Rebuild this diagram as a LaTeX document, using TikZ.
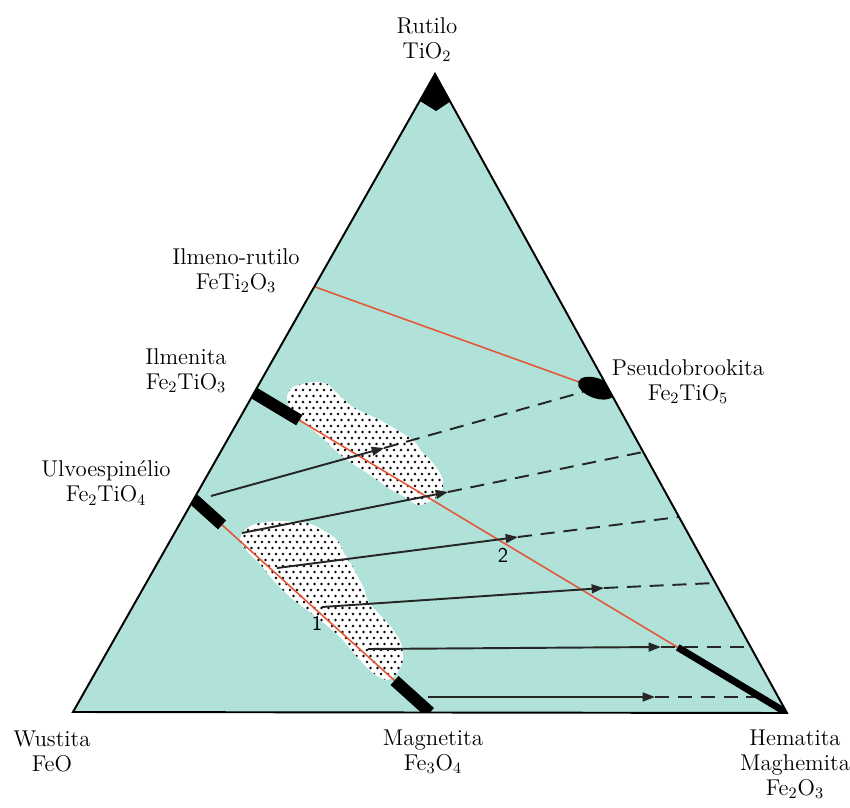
\documentclass[tikz,border=0pt]{standalone}
\usepackage{fontspec}
\usepackage{tikz}
\usetikzlibrary{arrows.meta, calc}
\usepackage{xcolor}
\definecolor{ternfill}{RGB}{176,226,218}
\definecolor{tiered}{RGB}{228,88,58}
\tikzset{
  tie/.style     = {draw=tiered, line width=0.9pt},
  bar/.style     = {draw=black, line width=0.24cm},
  oxi/.style     = {draw=black!85, line width=1.1pt, -{Triangle[length=7pt, width=5pt]}},
  oxidash/.style = {draw=black!85, line width=1.1pt, dash pattern=on 8pt off 5pt},
  lbl/.style     = {font=\fontsize{13}{14.2}\selectfont, align=center, inner sep=0pt},
  num/.style     = {font=\sffamily\fontsize{12}{12}\selectfont, inner sep=0pt}
}

\begin{document}
\begin{tikzpicture}[x=0.02cm, y=-0.02cm]
\useasboundingbox (0,0) rectangle (850,808);
\coordinate (W) at (73,712);
\coordinate (H) at (787,713);
\coordinate (R) at (435,74);
\coordinate (ilr) at ($(W)!2/3!(R)$);
\coordinate (ilm) at ($(W)!1/2!(R)$);
\coordinate (ulv) at ($(W)!1/3!(R)$);
\coordinate (psb) at ($(H)!1/2!(R)$);
\coordinate (mag) at ($(W)!1/2!(H)$);

\fill[ternfill] (W) -- (R) -- (H) -- cycle;

% dotted fields
\begin{scope}
  \clip plot[smooth cycle] coordinates {(287,397) (293,387) (313,382) (327,384) (337,393)
    (353,407) (380,420) (397,430) (413,440) (422,452) (433,463) (443,480) (440,494)
    (427,503) (417,505) (405,497) (390,489) (367,473) (350,462) (335,450) (318,434)
    (300,420) (290,408)};
  \fill[white] (280,375) rectangle (450,512);
  \foreach \r in {0,...,22} \foreach \c in {0,...,24}
    \fill ({282+7*\c+3.5*mod(\r,2)},{378+6*\r}) circle (0.8pt);
\end{scope}
\begin{scope}
  \clip plot[smooth cycle] coordinates {(240,540) (247,528) (260,523) (280,521) (307,523)
    (323,530) (337,540) (344,553) (350,562) (358,577) (364,589) (368,601) (378,613)
    (391,627) (401,643) (403,660) (397,673) (387,680) (373,673) (357,657) (340,637)
    (320,620) (303,607) (290,597) (273,580) (260,564) (247,551)};
  \fill[white] (232,515) rectangle (410,688);
  \foreach \r in {0,...,29} \foreach \c in {0,...,25}
    \fill ({234+7*\c+3.5*mod(\r,2)},{518+6*\r}) circle (0.8pt);
\end{scope}

\draw[tie] (ilr) -- ($(ilr)!0.9!(psb)$);
\draw[tie] (ilm) -- (H);
\draw[tie] (ulv) -- (mag);

\foreach \n/\sx/\sy/\tx/\ty/\ex/\ey in {%
  A/211/496/384/448/583/392, B/242/533/448/492/643/452,
  C/277/568/518/537/679/517, D/322/607/604/588/715/583,
  E/368/649/661/647/748/647, F/428/697/655/697/757/697} {
  \coordinate (\n-s) at (\sx,\sy);
  \coordinate (\n-t) at (\tx,\ty);
  \coordinate (\n-e) at (\ex,\ey);
  \draw[oxidash] (\n-t) -- (\n-e);
  \draw[oxi] (\n-s) -- (\n-t);
}

\begin{scope}
  \clip (W) -- (R) -- (H) -- cycle;
  \draw[bar] (ilm) -- ($(ilm)!0.085!(H)$);
  \draw[bar] (ulv) -- ($(ulv)!0.12!(mag)$);
  \draw[bar] ($(ulv)!0.85!(mag)$) -- (mag);
  \draw[bar, line width=0.14cm] ($(ilm)!0.795!(H)$) -- (H);
  \coordinate (psbblob) at ($(ilr)!0.95!(psb)$);
  \fill[rotate around={-20:(psbblob)}] (psbblob) ellipse [x radius=0.38cm, y radius=0.2cm];
  \fill (R) -- (451,101) -- (436,111) -- (420,101) -- cycle;
\end{scope}
\draw[line width=1.1pt, line join=miter] (W) -- (R) -- (H) -- cycle;

\node[lbl] (l-rut) at (427,40)  {Rutilo\\TiO$_2$};
\node[lbl] (l-ilr) at (236,271) {Ilmeno-rutilo\\FeTi$_2$O$_3$};
\node[lbl] (l-ilm) at (186,371) {Ilmenita\\Fe$_2$TiO$_3$};
\node[lbl] (l-ulv) at (106,483) {Ulvoespinélio\\Fe$_2$TiO$_4$};
\node[lbl] (l-psb) at (688,382) {Pseudobrookita\\Fe$_2$TiO$_5$};
\node[lbl] (l-wus) at (52,751)  {Wustita\\FeO};
\node[lbl] (l-mag) at (433,752) {Magnetita\\Fe$_3$O$_4$};
\node[lbl] (l-hem) at (795,764) {Hematita\\Maghemita\\Fe$_2$O$_3$};
\node[num] (n1) at (317,623) {1};
\node[num] (n2) at (503,555) {2};
\end{tikzpicture}
\end{document}
